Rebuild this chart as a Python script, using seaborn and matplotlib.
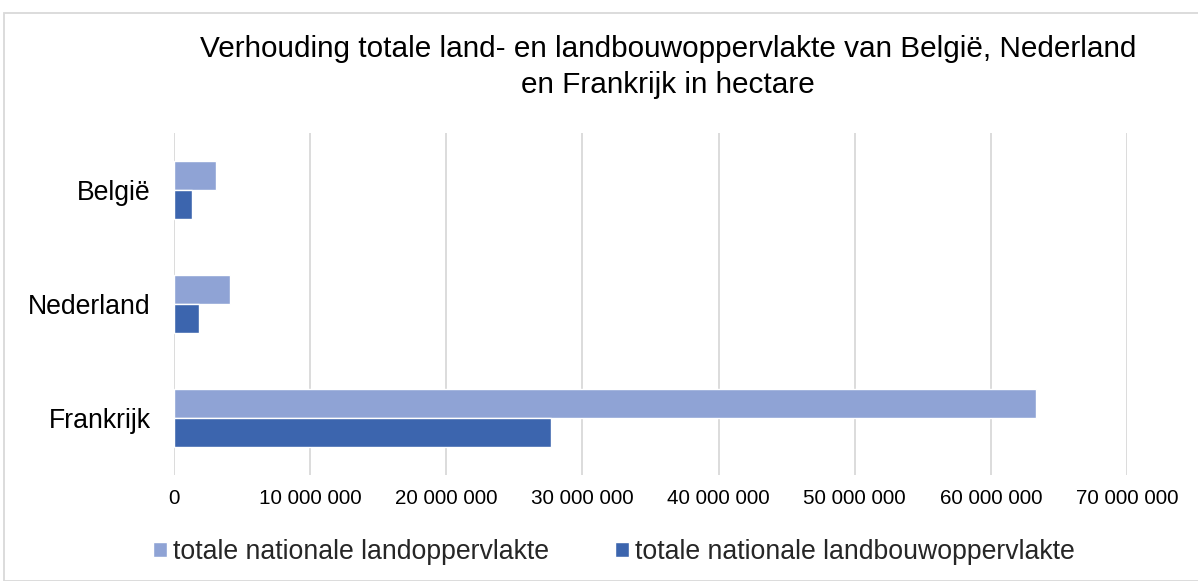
import matplotlib
matplotlib.use("Agg")
import matplotlib.pyplot as plt
import matplotlib.patches as mpatches
from matplotlib.ticker import FuncFormatter
import pandas as pd
import seaborn as sns

# Data (hectare)
landen = ["België", "Nederland", "Frankrijk"]
landoppervlakte = [3_060_000, 4_140_000, 63_300_000]
landbouwoppervlakte = [1_300_000, 1_840_000, 27_700_000]
reeksen = ["totale nationale landoppervlakte", "totale nationale landbouwoppervlakte"]
kleuren = {reeksen[0]: "#8fa3d5", reeksen[1]: "#3c65ae"}

df = pd.DataFrame({
    "land": landen * 2,
    "reeks": [reeksen[0]] * 3 + [reeksen[1]] * 3,
    "hectare": landoppervlakte + landbouwoppervlakte,
})

sns.set_theme(style="white")
plt.rcParams["font.family"] = ["Liberation Sans", "DejaVu Sans"]

W, H = 1198, 581
fig = plt.figure(figsize=(W / 100, H / 100), dpi=100)
ax = fig.add_axes([174 / W, 1 - 475 / H, (1127 - 174) / W, (475 - 133) / H])

sns.barplot(data=df, y="land", x="hectare", hue="reeks", order=landen,
            hue_order=reeksen, palette=kleuren, width=0.51, orient="h",
            saturation=1, ax=ax, legend=False)

ax.set_xlim(0, 70_000_000)
ax.set_ylim(2.5, -0.5)
ax.set_xticks(range(0, 70_000_001, 10_000_000))
ax.xaxis.set_major_formatter(FuncFormatter(lambda v, p: f"{int(v):,}".replace(",", " ")))
ax.grid(axis="x", color="#d9d9d9", linewidth=1.3)
ax.set_axisbelow(True)
for s in ax.spines.values():
    s.set_visible(False)
ax.set_xlabel("")
ax.set_ylabel("")
ax.tick_params(axis="x", labelsize=14.9, pad=10, length=0, colors="#000000")
ax.tick_params(axis="y", labelsize=19.2, pad=17, length=0, colors="#000000")

fig.text(668 / W, 1 - 67 / H,
         "Verhouding totale land- en landbouwoppervlakte van België, Nederland\nen Frankrijk in hectare",
         ha="center", va="center", fontsize=21.4, color="#000000", linespacing=1.35)

handles = [mpatches.Patch(facecolor=kleuren[r], label=r) for r in reeksen]
fig.legend(handles=handles, loc="center", bbox_to_anchor=(614 / W, 1 - 552 / H), ncol=2,
           frameon=False, fontsize=19.2, handlelength=0.52, handleheight=0.52,
           handletextpad=0.22, columnspacing=2.47, borderpad=0.2)

fig.add_artist(mpatches.Rectangle((4 / W, 0), 1.2, 1 - 13 / H, transform=fig.transFigure,
                                  fill=False, edgecolor="#d9d9d9", linewidth=1.3))

fig.savefig("out.png", dpi=100, facecolor="white")
